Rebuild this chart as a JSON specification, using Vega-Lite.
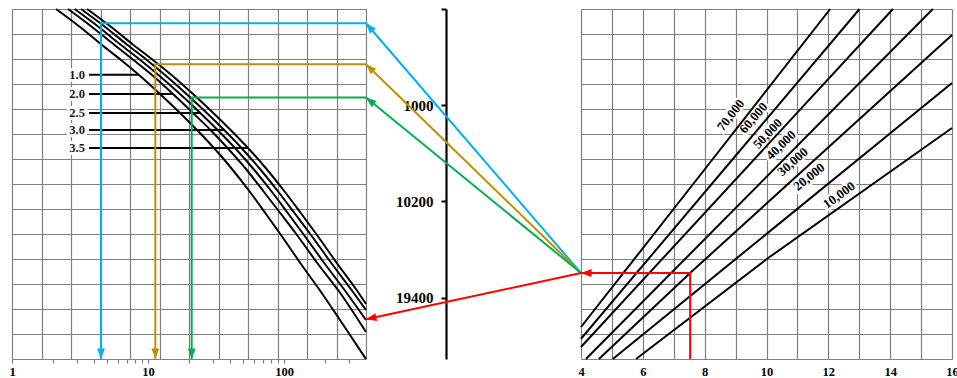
{
  "$schema": "https://vega.github.io/schema/vega-lite/v6.json",
  "padding": {"left": 8, "top": 5, "right": 0, "bottom": 0},
  "background": "white",
  "spacing": 0,
  "bounds": "flush",
  "config": {
    "view": {"stroke": null},
    "font": "Liberation Serif",
    "axis": {"labelFont": "Liberation Serif", "labelFontWeight": "bold", "labelColor": "black"}
  },
  "datasets": {
    "leftCurves": [
      {"curve": "1.0", "x": 2.106, "u": 14}, {"curve": "1.0", "x": 3.161, "u": 13.28}, {"curve": "1.0", "x": 4.587, "u": 12.56}, {"curve": "1.0", "x": 6.327, "u": 11.96}, {"curve": "1.0", "x": 8.581, "u": 11.36}, {"curve": "1.0", "x": 12.24, "u": 10.6}, {"curve": "1.0", "x": 17.18, "u": 9.84}, {"curve": "1.0", "x": 22.9, "u": 9.16}, {"curve": "1.0", "x": 30.53, "u": 8.44}, {"curve": "1.0", "x": 41.41, "u": 7.6}, {"curve": "1.0", "x": 56.16, "u": 6.68}, {"curve": "1.0", "x": 73.63, "u": 5.8}, {"curve": "1.0", "x": 94.9, "u": 4.96}, {"curve": "1.0", "x": 133.1, "u": 3.8}, {"curve": "1.0", "x": 186.8, "u": 2.68}, {"curve": "1.0", "x": 257.5, "u": 1.56}, {"curve": "1.0", "x": 400, "u": 0},
      {"curve": "2.0", "x": 2.58, "u": 14}, {"curve": "2.0", "x": 3.873, "u": 13.28}, {"curve": "2.0", "x": 5.668, "u": 12.56}, {"curve": "2.0", "x": 7.818, "u": 11.96}, {"curve": "2.0", "x": 10.69, "u": 11.36}, {"curve": "2.0", "x": 15.26, "u": 10.6}, {"curve": "2.0", "x": 21.4, "u": 9.84}, {"curve": "2.0", "x": 28.78, "u": 9.16}, {"curve": "2.0", "x": 38.37, "u": 8.44}, {"curve": "2.0", "x": 52.47, "u": 7.6}, {"curve": "2.0", "x": 71.18, "u": 6.68}, {"curve": "2.0", "x": 94.9, "u": 5.8}, {"curve": "2.0", "x": 124.4, "u": 4.96}, {"curve": "2.0", "x": 177.5, "u": 3.8}, {"curve": "2.0", "x": 255.4, "u": 2.68}, {"curve": "2.0", "x": 400, "u": 1.08},
      {"curve": "2.5", "x": 2.88, "u": 14}, {"curve": "2.5", "x": 4.338, "u": 13.28}, {"curve": "2.5", "x": 6.327, "u": 12.56}, {"curve": "2.5", "x": 8.771, "u": 11.96}, {"curve": "2.5", "x": 11.93, "u": 11.36}, {"curve": "2.5", "x": 17.18, "u": 10.6}, {"curve": "2.5", "x": 24.22, "u": 9.84}, {"curve": "2.5", "x": 32.45, "u": 9.16}, {"curve": "2.5", "x": 43.57, "u": 8.44}, {"curve": "2.5", "x": 59.58, "u": 7.6}, {"curve": "2.5", "x": 81.49, "u": 6.68}, {"curve": "2.5", "x": 107.7, "u": 5.8}, {"curve": "2.5", "x": 140.1, "u": 4.96}, {"curve": "2.5", "x": 199.8, "u": 3.8}, {"curve": "2.5", "x": 285.1, "u": 2.68}, {"curve": "2.5", "x": 400, "u": 1.56},
      {"curve": "3.0", "x": 3.215, "u": 14}, {"curve": "3.0", "x": 4.843, "u": 13.28}, {"curve": "3.0", "x": 7.062, "u": 12.56}, {"curve": "3.0", "x": 9.791, "u": 11.96}, {"curve": "3.0", "x": 13.32, "u": 11.36}, {"curve": "3.0", "x": 19.17, "u": 10.6}, {"curve": "3.0", "x": 27.03, "u": 9.84}, {"curve": "3.0", "x": 36.29, "u": 9.16}, {"curve": "3.0", "x": 48.63, "u": 8.44}, {"curve": "3.0", "x": 66.51, "u": 7.6}, {"curve": "3.0", "x": 90.97, "u": 6.68}, {"curve": "3.0", "x": 120.7, "u": 5.8}, {"curve": "3.0", "x": 157.7, "u": 4.96}, {"curve": "3.0", "x": 225, "u": 3.8}, {"curve": "3.0", "x": 321, "u": 2.68}, {"curve": "3.0", "x": 400, "u": 1.96},
      {"curve": "3.5", "x": 3.559, "u": 14}, {"curve": "3.5", "x": 5.36, "u": 13.28}, {"curve": "3.5", "x": 7.818, "u": 12.56}, {"curve": "3.5", "x": 10.87, "u": 11.96}, {"curve": "3.5", "x": 14.87, "u": 11.36}, {"curve": "3.5", "x": 21.4, "u": 10.6}, {"curve": "3.5", "x": 30.18, "u": 9.84}, {"curve": "3.5", "x": 40.44, "u": 9.16}, {"curve": "3.5", "x": 54.29, "u": 8.44}, {"curve": "3.5", "x": 74.25, "u": 7.6}, {"curve": "3.5", "x": 101.5, "u": 6.68}, {"curve": "3.5", "x": 134.3, "u": 5.8}, {"curve": "3.5", "x": 174.5, "u": 4.96}, {"curve": "3.5", "x": 246.9, "u": 3.8}, {"curve": "3.5", "x": 349.3, "u": 2.68}, {"curve": "3.5", "x": 400, "u": 2.2}
    ],
    "leftLabels": [
      {"label": "1.0", "x": 3.681, "x1": 8.581, "u": 11.37},
      {"label": "2.0", "x": 3.681, "x1": 15.26, "u": 10.6},
      {"label": "2.5", "x": 3.681, "x1": 24.22, "u": 9.84},
      {"label": "3.0", "x": 3.681, "x1": 36.29, "u": 9.16},
      {"label": "3.5", "x": 3.681, "x1": 54.29, "u": 8.44}
    ],
    "leftGuides": [
      {"c": "blue", "seq": 1, "x": 4.51, "u": 0}, {"c": "blue", "seq": 2, "x": 4.51, "u": 13.43}, {"c": "blue", "seq": 3, "x": 400, "u": 13.43},
      {"c": "gold", "seq": 1, "x": 11.31, "u": 0}, {"c": "gold", "seq": 2, "x": 11.31, "u": 11.79}, {"c": "gold", "seq": 3, "x": 400, "u": 11.79},
      {"c": "green", "seq": 1, "x": 20.93, "u": 0}, {"c": "green", "seq": 2, "x": 20.93, "u": 10.46}, {"c": "green", "seq": 3, "x": 400, "u": 10.46}
    ],
    "midArrows": [
      {"c": "blue", "x": 1, "u": 3.44}, {"c": "blue", "x": 0, "u": 13.43},
      {"c": "gold", "x": 1, "u": 3.44}, {"c": "gold", "x": 0, "u": 11.79},
      {"c": "green", "x": 1, "u": 3.44}, {"c": "green", "x": 0, "u": 10.46},
      {"c": "red", "x": 1, "u": 3.44}, {"c": "red", "x": 0, "u": 1.59}
    ],
    "rightLines": [
      {"k": 70000, "x": 4, "u": 1.28}, {"k": 70000, "x": 7.68, "u": 7.08}, {"k": 70000, "x": 12.06, "u": 14},
      {"k": 60000, "x": 4, "u": 0.81}, {"k": 60000, "x": 13.01, "u": 14},
      {"k": 50000, "x": 4, "u": 0.48}, {"k": 50000, "x": 14.09, "u": 14},
      {"k": 40000, "x": 4.16, "u": 0}, {"k": 40000, "x": 15.38, "u": 14},
      {"k": 30000, "x": 4.58, "u": 0}, {"k": 30000, "x": 7.53, "u": 3.44}, {"k": 30000, "x": 16, "u": 12.96},
      {"k": 20000, "x": 5.03, "u": 0}, {"k": 20000, "x": 16, "u": 11.04},
      {"k": 10000, "x": 5.78, "u": 0}, {"k": 10000, "x": 10.02, "u": 4.01}, {"k": 10000, "x": 16, "u": 9.24}
    ],
    "rightLabels": [
      {"k": 70000, "t": "70,000", "x": 8.85, "u": 9.75},
      {"k": 60000, "t": "60,000", "x": 9.58, "u": 9.64},
      {"k": 50000, "t": "50,000", "x": 10.04, "u": 9.01},
      {"k": 40000, "t": "40,000", "x": 10.47, "u": 8.55},
      {"k": 30000, "t": "30,000", "x": 10.85, "u": 7.88},
      {"k": 20000, "t": "20,000", "x": 11.38, "u": 7.28},
      {"k": 10000, "t": "10,000", "x": 12.35, "u": 6.55}
    ],
    "rightGuide": [
      {"c": "red", "seq": 1, "x": 7.53, "u": 0}, {"c": "red", "seq": 2, "x": 7.53, "u": 3.44}, {"c": "red", "seq": 3, "x": 4, "u": 3.44}
    ]
  },
  "hconcat": [
    {
      "width": 354,
      "height": 350,
      "layer": [
        {
          "data": {"values": [{"gx": 0, "gy": 0}, {"gx": 12, "gy": 14}]},
          "mark": {"type": "point", "opacity": 0},
          "encoding": {
            "x": {"field": "gx", "type": "quantitative", "scale": {"domain": [0, 12], "nice": false, "zero": false},
              "axis": {"orient": "top", "values": [0,1,2,3,4,5,6,7,8,9,10,11,12], "grid": true, "gridColor": "#808080", "gridWidth": 1.2, "gridOpacity": 1, "labels": false, "ticks": false, "domain": false, "title": null}},
            "y": {"field": "gy", "type": "quantitative", "scale": {"domain": [0, 14], "nice": false, "zero": false},
              "axis": {"orient": "left", "values": [0,1,2,3,4,5,6,7,8,9,10,11,12,13,14], "grid": true, "gridColor": "#808080", "gridWidth": 1.2, "gridOpacity": 1, "labels": false, "ticks": false, "domain": false, "title": null}}
          }
        },
        {
          "encoding": {
            "x": {"field": "x", "type": "quantitative", "scale": {"type": "log", "domain": [1, 400], "nice": false},
              "axis": {"orient": "bottom", "values": [1,2,3,4,5,6,7,8,9,10,20,30,40,50,60,70,80,90,100,200,300], "format": "d", "labelExpr": "datum.value == 1 || datum.value == 10 || datum.value == 100 ? datum.label : ''", "grid": false, "domain": false, "ticks": true, "tickSize": 4, "tickColor": "#808080", "tickWidth": 1.2, "labelFontSize": 12.5, "labelPadding": 2, "labelFlush": false, "labelOverlap": false, "title": null}},
            "y": {"field": "u", "type": "quantitative", "scale": {"domain": [0, 14], "nice": false, "zero": false}, "axis": null}
          },
          "layer": [
            {
              "data": {"name": "leftLabels"},
              "mark": {"type": "text", "align": "right", "baseline": "middle", "dx": -4, "fontSize": 12.5, "fontWeight": "bold", "font": "Liberation Serif", "color": "white", "stroke": "white", "strokeWidth": 6},
              "encoding": {"text": {"field": "label"}}
            },
            {
              "data": {"name": "leftCurves"},
              "mark": {"type": "line", "color": "black", "strokeWidth": 2, "interpolate": "monotone"},
              "encoding": {"detail": {"field": "curve"}}
            },
            {
              "data": {"name": "leftLabels"},
              "mark": {"type": "rule", "color": "black", "strokeWidth": 2},
              "encoding": {"x2": {"field": "x1"}}
            },
            {
              "data": {"name": "leftLabels"},
              "mark": {"type": "text", "align": "right", "baseline": "middle", "dx": -4, "fontSize": 12.5, "fontWeight": "bold", "font": "Liberation Serif", "color": "#1a1a1a"},
              "encoding": {"text": {"field": "label"}}
            },
            {
              "data": {"name": "leftGuides"},
              "mark": {"type": "line", "strokeWidth": 2},
              "encoding": {
                "color": {"field": "c", "type": "nominal", "scale": {"domain": ["blue", "gold", "green", "red"], "range": ["#00B0F0", "#BF8F00", "#00B050", "#FF0000"]}, "legend": null},
                "order": {"field": "seq", "type": "quantitative"}
              }
            },
            {
              "data": {"name": "leftGuides"},
              "transform": [{"filter": "datum.seq == 1"}],
              "mark": {"type": "point", "shape": "M0,0L2,-0.75L2,0.75Z", "size": 110, "filled": true, "opacity": 1, "strokeWidth": 0, "angle": 270},
              "encoding": {
                "color": {"field": "c", "type": "nominal", "scale": {"domain": ["blue", "gold", "green", "red"], "range": ["#00B0F0", "#BF8F00", "#00B050", "#FF0000"]}, "legend": null}
              }
            }
          ]
        }
      ],
      "resolve": {"scale": {"x": "independent", "y": "independent"}}
    },
    {
      "width": 215,
      "height": 350,
      "layer": [
        {
          "data": {"name": "midArrows"},
          "encoding": {
            "x": {"field": "x", "type": "quantitative", "scale": {"domain": [0, 1], "nice": false, "zero": false}, "axis": null},
            "y": {"field": "u", "type": "quantitative", "scale": {"domain": [0, 14], "nice": false, "zero": false}, "axis": null},
            "color": {"field": "c", "type": "nominal", "scale": {"domain": ["blue", "gold", "green", "red"], "range": ["#00B0F0", "#BF8F00", "#00B050", "#FF0000"]}, "legend": null}
          },
          "layer": [
            {
              "mark": {"type": "line", "strokeWidth": 2},
              "encoding": {"detail": {"field": "c"}}
            },
            {
              "transform": [{"filter": "datum.c == 'blue' && datum.x == 0"}],
              "mark": {"type": "point", "shape": "M0,0L2,-0.75L2,0.75Z", "size": 110, "filled": true, "opacity": 1, "strokeWidth": 0, "angle": 49}
            },
            {
              "transform": [{"filter": "datum.c == 'gold' && datum.x == 0"}],
              "mark": {"type": "point", "shape": "M0,0L2,-0.75L2,0.75Z", "size": 110, "filled": true, "opacity": 1, "strokeWidth": 0, "angle": 44}
            },
            {
              "transform": [{"filter": "datum.c == 'green' && datum.x == 0"}],
              "mark": {"type": "point", "shape": "M0,0L2,-0.75L2,0.75Z", "size": 110, "filled": true, "opacity": 1, "strokeWidth": 0, "angle": 39}
            },
            {
              "transform": [{"filter": "datum.c == 'red' && datum.x == 0"}],
              "mark": {"type": "point", "shape": "M0,0L2,-0.75L2,0.75Z", "size": 110, "filled": true, "opacity": 1, "strokeWidth": 0, "angle": -12}
            }
          ]
        },
        {
          "data": {"values": [{"m": -8200}, {"m": 25272}]},
          "mark": {"type": "point", "opacity": 0},
          "encoding": {
            "y": {"field": "m", "type": "quantitative", "scale": {"domain": [-8200, 25272], "reverse": true, "nice": false, "zero": false},
              "axis": {"orient": "left", "offset": -80, "values": [-8200, 1000, 10200, 19400], "format": "d", "labelExpr": "datum.value < 0 ? '' : datum.label", "grid": false, "domain": true, "domainColor": "black", "domainWidth": 2.2, "ticks": true, "tickSize": 5, "tickColor": "black", "tickWidth": 2, "labelFontSize": 15, "labelPadding": 8, "labelFont": "Liberation Serif", "labelFontWeight": "bold", "labelColor": "black", "title": null}}
          }
        }
      ],
      "resolve": {"scale": {"y": "independent"}}
    },
    {
      "width": 371,
      "height": 350,
      "encoding": {
        "x": {"field": "x", "type": "quantitative", "scale": {"domain": [4, 16], "nice": false, "zero": false},
          "axis": {"orient": "bottom", "values": [4,5,6,7,8,9,10,11,12,13,14,15,16], "grid": true, "gridColor": "#808080", "gridWidth": 1.2, "gridOpacity": 1, "labelExpr": "datum.value % 2 == 0 ? datum.label : ''", "ticks": false, "domain": false, "labelFontSize": 12.5, "labelPadding": 6, "labelFlush": false, "labelOverlap": false, "title": null}},
        "y": {"field": "u", "type": "quantitative", "scale": {"domain": [0, 14], "nice": false, "zero": false},
          "axis": {"orient": "left", "values": [0,1,2,3,4,5,6,7,8,9,10,11,12,13,14], "grid": true, "gridColor": "#808080", "gridWidth": 1.2, "gridOpacity": 1, "labels": false, "ticks": false, "domain": false, "title": null}}
      },
      "layer": [
        {
          "data": {"name": "rightLabels"},
          "mark": {"type": "text", "align": "center", "baseline": "middle", "fontSize": 13, "fontWeight": "bold", "font": "Liberation Serif", "color": "white", "stroke": "white", "strokeWidth": 5},
          "encoding": {
            "text": {"field": "t"},
            "angle": {"field": "k", "type": "quantitative", "scale": {"domain": [10000, 70000], "range": [324, 308]}, "legend": null}
          }
        },
        {
          "data": {"name": "rightLines"},
          "mark": {"type": "line", "color": "black", "strokeWidth": 2},
          "encoding": {"detail": {"field": "k"}}
        },
        {
          "data": {"name": "rightLabels"},
          "mark": {"type": "text", "align": "center", "baseline": "middle", "fontSize": 13, "fontWeight": "bold", "font": "Liberation Serif", "color": "black"},
          "encoding": {
            "text": {"field": "t"},
            "angle": {"field": "k", "type": "quantitative", "scale": {"domain": [10000, 70000], "range": [324, 308]}, "legend": null}
          }
        },
        {
          "data": {"name": "rightGuide"},
          "mark": {"type": "line", "strokeWidth": 2},
          "encoding": {
            "color": {"field": "c", "type": "nominal", "scale": {"domain": ["blue", "gold", "green", "red"], "range": ["#00B0F0", "#BF8F00", "#00B050", "#FF0000"]}, "legend": null},
            "order": {"field": "seq", "type": "quantitative"}
          }
        },
        {
          "data": {"name": "rightGuide"},
          "transform": [{"filter": "datum.seq == 3"}],
          "mark": {"type": "point", "shape": "M0,0L2,-0.75L2,0.75Z", "size": 110, "filled": true, "opacity": 1, "strokeWidth": 0, "angle": 0},
          "encoding": {
            "color": {"field": "c", "type": "nominal", "scale": {"domain": ["blue", "gold", "green", "red"], "range": ["#00B0F0", "#BF8F00", "#00B050", "#FF0000"]}, "legend": null}
          }
        }
      ]
    }
  ]
}
